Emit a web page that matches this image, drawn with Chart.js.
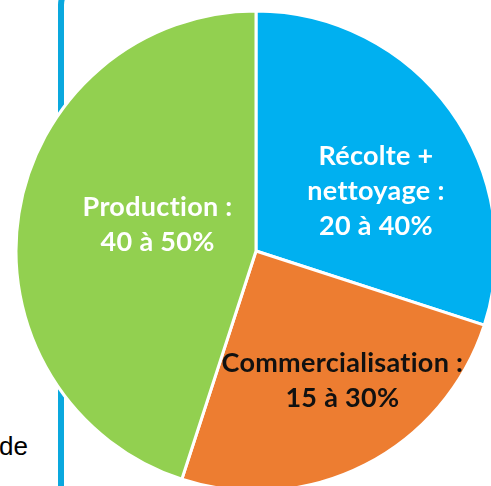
<!DOCTYPE html>
<html>
<head>
<meta charset="utf-8">
<script src="https://cdn.jsdelivr.net/npm/chart.js@4"></script>
<style>
  html, body { margin: 0; padding: 0; width: 491px; height: 486px; overflow: hidden; background: #fff; }
  #frame {
    position: absolute; left: 58px; top: -19px; width: 1000px; height: 1000px;
    border: 6px solid #0AA8DE; border-radius: 24px; box-sizing: border-box;
  }
  #side { position: absolute; left: -1px; top: 431px; font: 26px "Liberation Sans", Arial, sans-serif; color: #000; }
  #wrap { position: absolute; left: 16px; top: 11px; width: 480px; height: 480px; }
</style>
</head>
<body>
<div id="frame"></div>
<div id="side">de</div>
<div id="wrap"><canvas id="pie"></canvas></div>
<script>
// parts of the work, clockwise from the top
const categories = ['Récolte + nettoyage', 'Commercialisation', 'Production']
const shares = [30, 25, 45]
const labelLines = [
    ['Récolte +', 'nettoyage :', '20 à 40%'],
    ['Commercialisation :', '15 à 30%'],
    ['Production :', '40 à 50%']
]
const sliceColors = ['#00B0F0', '#ED7D31', '#92D050']
const textColors = ['#ffffff', '#111111', '#ffffff']
// label centre, as a fraction of the radius from the pie centre
const labelOffsets = [[0.50, -0.25], [0.36, 0.54], [-0.41, -0.11]]

const sliceLabels = {
    id: 'sliceLabels',
    afterDatasetsDraw(chart) {
        const ctx = chart.ctx
        const arcs = chart.getDatasetMeta(0).data
        ctx.save()
        ctx.font = 'bold 27px Lato'
        ctx.letterSpacing = '0.3px' // keeps "ti" from turning into a ligature
        ctx.textAlign = 'center'
        ctx.textBaseline = 'middle'
        arcs.forEach((arc, i) => {
            const { x, y, outerRadius } = arc.getProps(['x', 'y', 'outerRadius'], true)
            const cx = x + labelOffsets[i][0] * outerRadius
            const cy = y + labelOffsets[i][1] * outerRadius
            const lines = labelLines[i]
            const lh = 35
            ctx.fillStyle = textColors[i]
            lines.forEach((t, k) => {
                ctx.fillText(t, cx, cy + (k - (lines.length - 1) / 2) * lh)
            })
        })
        ctx.restore()
    }
}

new Chart(document.getElementById('pie'), {
    type: 'pie',
    data: {
        labels: categories,
        datasets: [{
            data: shares,
            backgroundColor: sliceColors,
            borderColor: '#ffffff',
            borderWidth: 3
        }]
    },
    options: {
        responsive: true,
        maintainAspectRatio: false,
        animation: false,
        radius: 240,
        layout: { padding: 0 },
        plugins: {
            legend: { display: false },
            tooltip: { enabled: false }
        }
    },
    plugins: [sliceLabels]
})
</script>
</body>
</html>
